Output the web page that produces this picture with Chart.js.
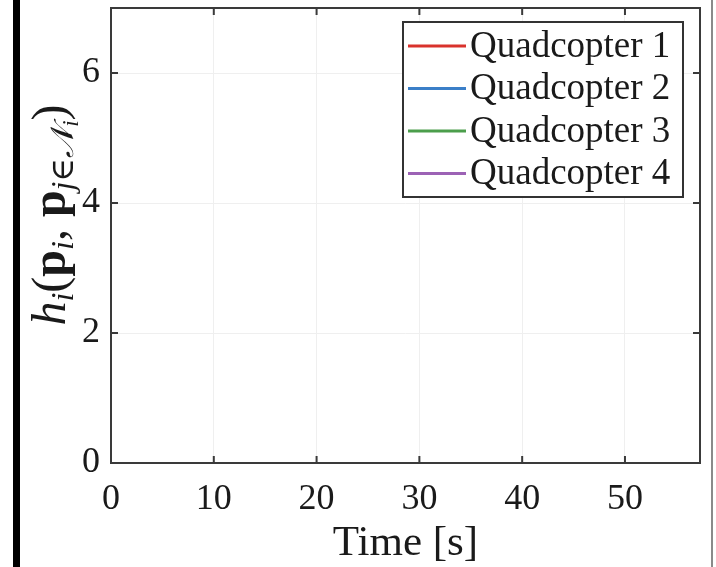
<!DOCTYPE html>
<html>
<head>
<meta charset="utf-8">
<script src="https://cdn.jsdelivr.net/npm/chart.js@4.4.0/dist/chart.umd.min.js"></script>
<style>
  body { margin: 0; background: #fff; }
  #wrap { position: relative; width: 716px; height: 567px; overflow: hidden; }
  #leftBar { position: absolute; left: 13px; top: 0; width: 7px; height: 567px; background: #000; }
  #rightBar { position: absolute; left: 711px; top: 0; width: 2px; height: 567px; background: #8a8a8a; }
</style>
</head>
<body>
<div id="wrap">
  <canvas id="myChart" width="716" height="567"></canvas>
  <div id="leftBar"></div>
  <div id="rightBar"></div>
</div>
<script>
var timeTicks = [0, 10, 20, 30, 40, 50];
var hTicks = [0, 2, 4, 6];
var seriesNames = ["Quadcopter 1", "Quadcopter 2", "Quadcopter 3", "Quadcopter 4"];
var seriesColors = ["#d9322c", "#3b7fc8", "#4c9e4c", "#9c62b5"];
// no curves are visible in the picture, so the series are empty
var quad1 = [];
var quad2 = [];
var quad3 = [];
var quad4 = [];
var allSeries = [quad1, quad2, quad3, quad4];

var serif = "'Liberation Serif', 'DejaVu Serif', serif";
var axisColor = "#3a3a3a";

// box, inner ticks on all four sides, and the boxed legend
var boxPlugin = {
    id: "box",
    afterDatasetsDraw: function (chart) {
        var ctx = chart.ctx;
        var a = chart.chartArea;
        var xs = chart.scales.x, ys = chart.scales.y;
        var tl = 7;
        ctx.save();
        ctx.strokeStyle = axisColor;
        ctx.lineWidth = 2;
        ctx.strokeRect(a.left, a.top, a.right - a.left, a.bottom - a.top);
        ctx.beginPath();
        timeTicks.forEach(function (t) {
            var px = xs.getPixelForValue(t);
            ctx.moveTo(px, a.bottom); ctx.lineTo(px, a.bottom - tl);
            ctx.moveTo(px, a.top); ctx.lineTo(px, a.top + tl);
        });
        hTicks.forEach(function (t) {
            var py = ys.getPixelForValue(t);
            ctx.moveTo(a.left, py); ctx.lineTo(a.left + tl, py);
            ctx.moveTo(a.right, py); ctx.lineTo(a.right - tl, py);
        });
        ctx.stroke();

        // legend
        var lx = 403, ly = 22, lw = 280, lh = 175;
        ctx.fillStyle = "#fff";
        ctx.fillRect(lx, ly, lw, lh);
        ctx.strokeStyle = "#333";
        ctx.lineWidth = 2;
        ctx.strokeRect(lx, ly, lw, lh);
        ctx.font = "37px " + serif;
        ctx.textBaseline = "middle";
        ctx.textAlign = "left";
        chart.data.datasets.forEach(function (ds, i) {
            var cy = ly + 24 + i * 42.5;
            ctx.strokeStyle = ds.borderColor;
            ctx.lineWidth = 3;
            ctx.beginPath();
            ctx.moveTo(lx + 5, cy); ctx.lineTo(lx + 63, cy);
            ctx.stroke();
            ctx.fillStyle = "#1a1a1a";
            ctx.fillText(ds.label, lx + 67, cy + 1);
        });

        // y axis label h_i(p_i, p_{j in N_i})
        var parts = [
            {t: "h", f: "italic 48px " + serif, dy: 0},
            {t: "i", f: "italic 32px " + serif, dy: 8},
            {t: "(", f: "48px " + serif, dy: 0},
            {t: "p", f: "bold 48px " + serif, dy: 0},
            {t: "i", f: "italic 32px " + serif, dy: 8},
            {t: ", ", f: "48px " + serif, dy: 0},
            {t: "p", f: "bold 48px " + serif, dy: 0},
            {t: "j", f: "italic 32px " + serif, dy: 8},
            {t: "\u2208", f: "32px " + serif, dy: 8},
            {t: "\uD835\uDCA9", f: "italic 32px " + serif, dy: 8},
            {t: "i", f: "italic 23px " + serif, dy: 13},
            {t: ")", f: "48px " + serif, dy: 0}
        ];
        var total = 0;
        parts.forEach(function (p) { ctx.font = p.f; p.w = ctx.measureText(p.t).width; total += p.w; });
        ctx.translate(51, 215);
        ctx.rotate(-Math.PI / 2);
        ctx.fillStyle = "#1a1a1a";
        ctx.textBaseline = "alphabetic";
        var x = -total / 2;
        parts.forEach(function (p) {
            ctx.font = p.f;
            ctx.fillText(p.t, x, 14 + p.dy);
            x += p.w;
        });
        ctx.restore();
    }
};

function HChart() {
    var datasets = seriesNames.map(function (name, i) {
        return {
            label: name,
            data: allSeries[i],
            borderColor: seriesColors[i],
            backgroundColor: seriesColors[i],
            borderWidth: 2,
            pointRadius: 0,
            fill: false
        };
    });

    new Chart("myChart", {
        type: "line",
        data: {datasets: datasets},
        plugins: [boxPlugin],
        options: {
            responsive: false,
            animation: false,
            layout: {padding: {top: 8, right: 16, left: 0, bottom: 0}},
            plugins: {legend: {display: false}, tooltip: {enabled: false}},
            scales: {
                x: {
                    type: "linear",
                    min: 0,
                    max: 57.3,
                    afterBuildTicks: function (s) { s.ticks = timeTicks.map(function (v) { return {value: v}; }); },
                    afterFit: function (s) { s.height = 104; s.paddingRight = 0; s.paddingLeft = 0; },
                    grid: {color: "#efefef", lineWidth: 1, drawTicks: false},
                    border: {display: false},
                    ticks: {color: "#1a1a1a", font: {family: serif, size: 36}, padding: 15, maxRotation: 0},
                    title: {display: true, text: "Time [s]", color: "#1a1a1a", font: {family: serif, size: 43}, padding: {top: 0, bottom: -3}}
                },
                y: {
                    min: 0,
                    max: 7,
                    afterBuildTicks: function (s) { s.ticks = hTicks.map(function (v) { return {value: v}; }); },
                    afterFit: function (s) { s.width = 111; s.paddingTop = 0; s.paddingBottom = 0; },
                    grid: {color: "#efefef", lineWidth: 1, drawTicks: false},
                    border: {display: false},
                    ticks: {color: "#1a1a1a", font: {family: serif, size: 36}, padding: 11}
                }
            }
        }
    });
}

HChart();
</script>
</body>
</html>
